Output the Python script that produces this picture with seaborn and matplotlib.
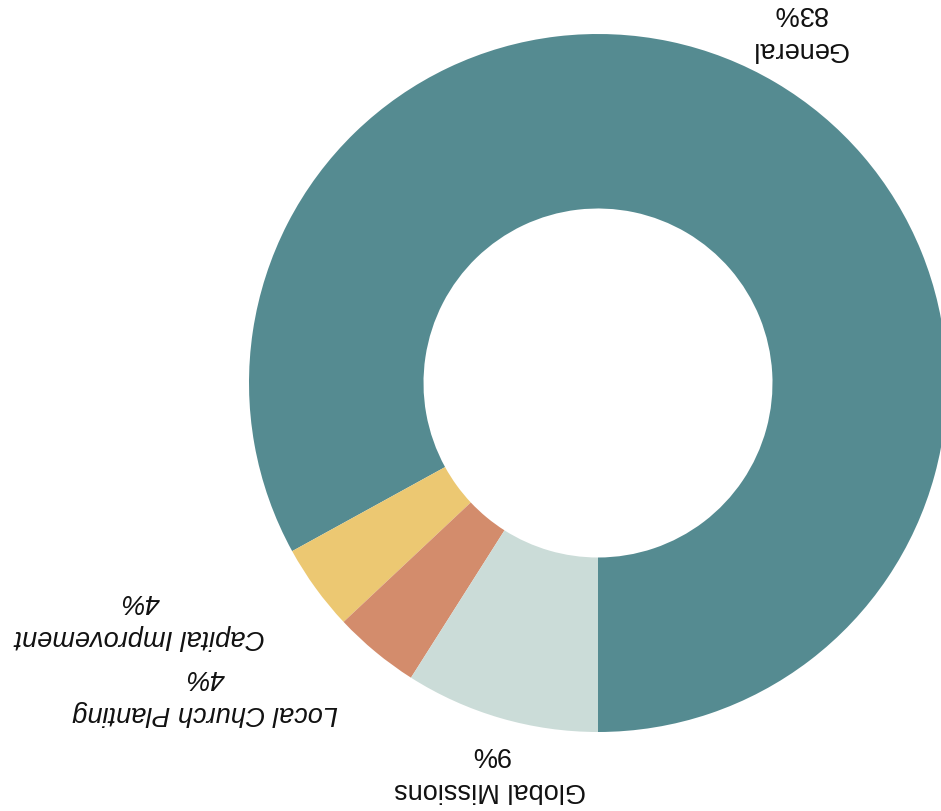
import matplotlib
matplotlib.use("Agg")
import matplotlib.pyplot as plt
import seaborn as sns

# Giving breakdown (chart is rendered upside down, as in the source)
categories = ["General", "Capital Improvement", "Local Church Planting", "Global Missions"]
shares = [83, 4, 4, 9]
colors = ["#558b91", "#ecc872", "#d38c6c", "#cbdcd8"]
italic = [False, True, True, False]

# label anchor points (axes units, pie radius = 1)
label_pos = [(0.578, 1.012), (-1.312, -0.672), (-1.126, -0.890), (-0.309, -1.112)]

sns.set_theme(style="white")
plt.rcParams['font.family'] = ['Liberation Sans', 'DejaVu Sans']

fig = plt.figure(figsize=(9.41, 8.12), dpi=100)
ax = fig.add_axes([0, 0, 1, 1])

ax.pie(shares, colors=colors, startangle=270, counterclock=True, radius=1,
       wedgeprops=dict(width=0.5, linewidth=0))

for name, val, pos, it in zip(categories, shares, label_pos, italic):
    ax.text(pos[0], pos[1], f"{name}\n{val}%", rotation=180,
            ha="center", va="center", multialignment="center",
            fontsize=19.5, color="#111111", linespacing=1.5,
            style="italic" if it else "normal")

ax.set_xlim(-598 / 349, 343 / 349)
ax.set_ylim(-428 / 349, 384 / 349)
ax.set_aspect("equal")
ax.axis("off")

plt.savefig("out.png", dpi=100)
plt.close()
